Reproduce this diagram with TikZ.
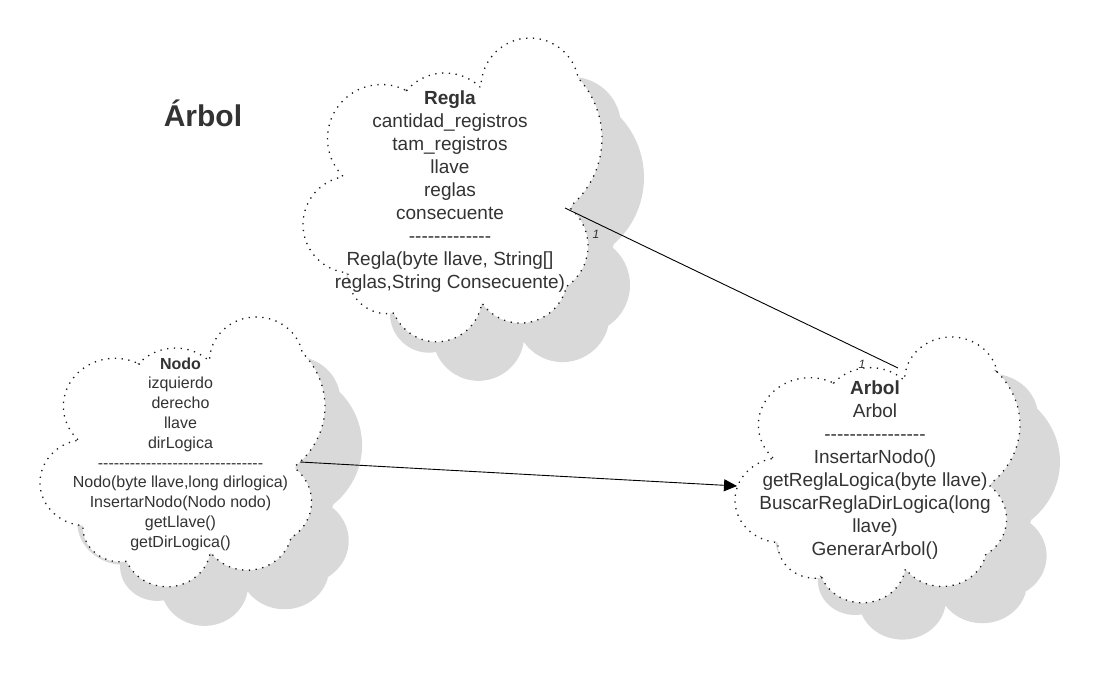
\documentclass[tikz,border=0pt]{standalone}
\usepackage{fontspec}
\setmainfont{Liberation Sans}[Ligatures=TeXOff]
\usetikzlibrary{arrows.meta}
\definecolor{txt}{HTML}{333333}
\definecolor{shade}{HTML}{D9D9D9}
\tikzset{
  cloudpath/.style={insert path={
    (39.85,138.21) arc[start angle=135.7,end angle=299.7,radius=54]
    -- (103.49,52.67) arc[start angle=220.7,end angle=313.6,radius=50.8]
    -- (178,49) arc[start angle=180,end angle=349.4,radius=49]
    -- (275.02,39.92) arc[start angle=316.8,end angle=408.7,radius=88.5]
    -- (267.63,170.57) arc[start angle=310.2,end angle=417.3,radius=49]
    -- (263.04,250.03) arc[start angle=14.8,end angle=145,radius=47.1]
    -- (178.77,264.93) arc[start angle=8.7,end angle=158.2,radius=45.8]
    -- (91.04,275.06) arc[start angle=79.6,end angle=182.5,radius=39]
    -- (45.03,234.87) arc[start angle=94.1,end angle=258.7,radius=48.5]
    -- cycle}},
  cloudline/.style={fill=white, draw=black!90, line width=1.3pt, dash pattern=on 1.3pt off 5.5pt},
  cloudshadow/.style={fill=shade},
  cloudtext/.style={align=center, text=txt, inner sep=0pt, font=\fontsize{19}{23}\selectfont},
  smalltext/.style={align=center, text=txt, inner sep=0pt, font=\fontsize{16}{19.8}\selectfont},
  multlabel/.style={text=txt, inner sep=0pt, font=\fontsize{12}{14}\itshape},
  connector/.style={draw=black, line width=0.9pt}
}
\begin{document}
\begin{tikzpicture}[x=1pt,y=-1pt]
\useasboundingbox (0,0) rectangle (1098,678);
\fill[white] (0,0) rectangle (1098,678);

% Regla cloud
\begin{scope}[shift={(303,38)}]
  \path[cloudshadow, shift={(42,39)}, cloudpath];
  \path[cloudline, cloudpath];
\end{scope}
% Nodo cloud
\begin{scope}[shift={(40,317)}, xscale=0.953, yscale=0.888]
  \path[cloudshadow, shift={(39,44)}, cloudpath];
  \path[cloudline, cloudpath];
\end{scope}
% Arbol cloud
\begin{scope}[shift={(735,337)}, xscale=0.953, yscale=0.875]
  \path[cloudshadow, shift={(42,42)}, cloudpath];
  \path[cloudline, cloudpath];
\end{scope}

\node[text=txt, inner sep=0pt, font=\fontsize{30}{36}\selectfont\bfseries, anchor=base] (title) at (203,126.7) {Árbol};

\node[cloudtext] (regla) at (450,192) {\textbf{Regla}\\cantidad\_registros\\tam\_registros\\llave\\reglas\\consecuente\\-------------\\Regla(byte llave, String[]\\reglas,String Consecuente)};

\node[smalltext] (nodo) at (180.5,454) {\textbf{Nodo}\\izquierdo\\derecho\\llave\\dirLogica\\-------------------------------\\Nodo(byte llave,long dirlogica)\\InsertarNodo(Nodo nodo)\\getLlave()\\getDirLogica()};

\node[cloudtext] (arbol) at (875,470.5) {\textbf{Arbol}\\Arbol\\----------------\\InsertarNodo()\\getReglaLogica(byte llave)\\BuscarReglaDirLogica(long\\llave)\\GenerarArbol()};

\coordinate (reglaOut) at (565,208);
\coordinate (arbolTop) at (898,368);
\coordinate (nodoOut) at (300,462);
\coordinate (arbolLeft) at (737,486);

\draw[connector] (reglaOut) -- (arbolTop);
\draw[connector, -{Triangle[length=13pt,width=12pt]}] (nodoOut) -- (arbolLeft);

\node[multlabel] (m1) at (596,234) {1};
\node[multlabel] (m2) at (862,364) {1};
\end{tikzpicture}
\end{document}
